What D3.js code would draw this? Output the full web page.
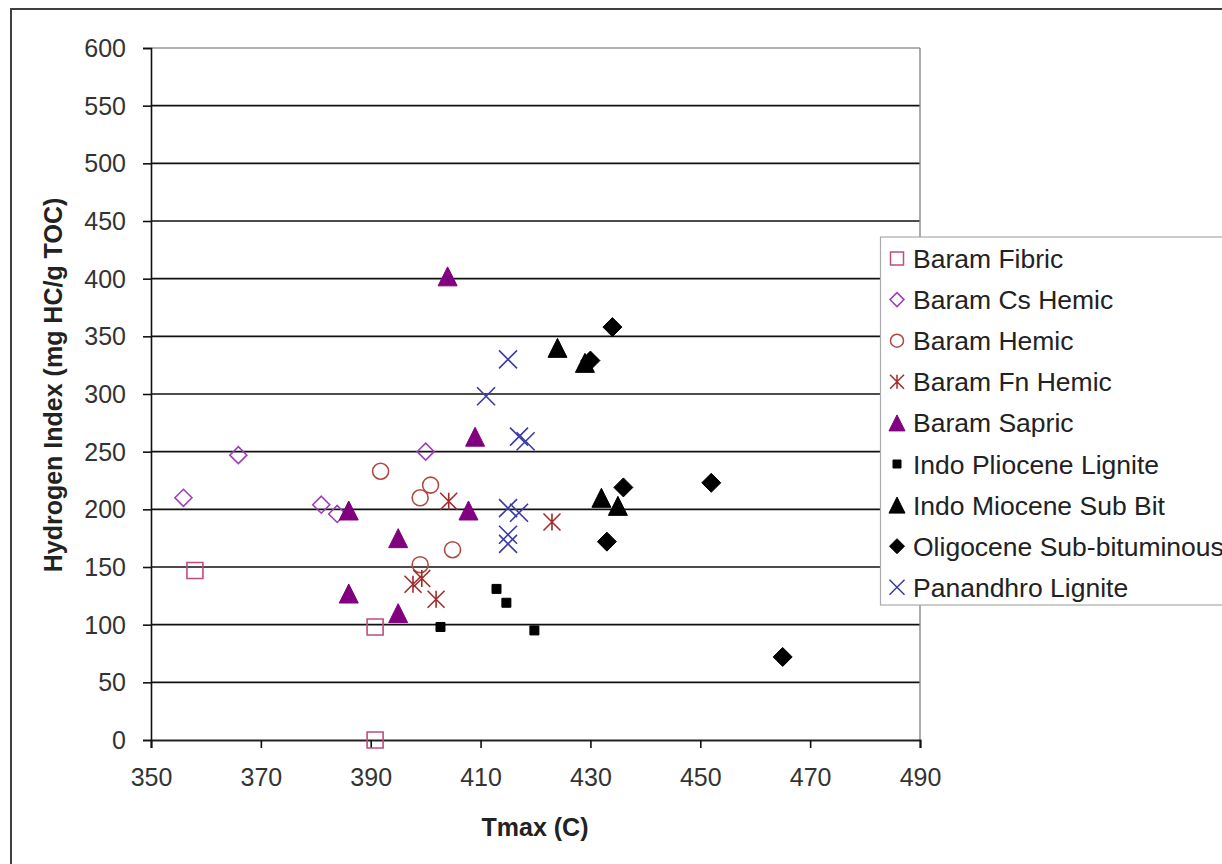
<!DOCTYPE html>
<html>
<head>
<meta charset="utf-8">
<script src="https://cdn.jsdelivr.net/npm/d3@7"></script>
<style>
  html, body { margin: 0; padding: 0; background: #fff; }
  svg { display: block; font-family: "Liberation Sans", Arial, sans-serif; }
</style>
</head>
<body>
<svg id="chart" width="1222" height="864"></svg>
<script>
// ---------- data ----------
const seriesNames = ["Baram Fibric", "Baram Cs Hemic", "Baram Hemic", "Baram Fn Hemic", "Baram Sapric",
  "Indo Pliocene Lignite", "Indo Miocene Sub Bit", "Oligocene Sub-bituminous", "Panandhro Lignite"];

const baramFibricX = [358, 390.8, 390.8];
const baramFibricY = [147, 98, 0];
const baramCsHemicX = [355.9, 365.9, 381, 383.9, 400];
const baramCsHemicY = [210, 247, 204, 196, 250];
const baramHemicX = [391.8, 400.9, 399, 404.9, 399];
const baramHemicY = [233, 221, 210, 165, 152];
const baramFnHemicX = [404.2, 397.7, 399.3, 401.9, 423];
const baramFnHemicY = [207, 135, 140, 122, 189];
const baramSapricX = [404, 409, 407.8, 386, 395, 386, 395];
const baramSapricY = [402, 263, 199, 199, 175, 127, 110];
const indoPlioceneX = [402.7, 412.9, 414.7, 419.8];
const indoPlioceneY = [98, 131, 119, 95];
const indoMioceneX = [424, 429, 432, 435];
const indoMioceneY = [340, 327, 210, 203];
const oligoceneX = [434, 430, 436, 452, 433, 465];
const oligoceneY = [358, 329, 219, 223, 172, 72];
const panandhroX = [415, 411, 417, 418.2, 415, 417, 415, 415];
const panandhroY = [330, 298, 263, 259, 201, 197, 178, 170];

const xTicks = [350, 370, 390, 410, 430, 450, 470, 490];
const yTicks = [0, 50, 100, 150, 200, 250, 300, 350, 400, 450, 500, 550, 600];

// ---------- styles ----------
const styles = [
  { shape: "square", size: 16, fill: "none", stroke: "#c04c80" },
  { shape: "diamond", size: 17, fill: "none", stroke: "#9c40b8" },
  { shape: "circle", size: 16, fill: "none", stroke: "#b04a40" },
  { shape: "asterisk", size: 17, fill: "none", stroke: "#a02c2c" },
  { shape: "triangle", size: 19, fill: "#800080", stroke: "#800080" },
  { shape: "square", size: 9, fill: "#000", stroke: "#000" },
  { shape: "triangle", size: 19, fill: "#000", stroke: "#000" },
  { shape: "diamond", size: 19, fill: "#000", stroke: "#000" },
  { shape: "x", size: 18, fill: "none", stroke: "#3a3aa8" }
];
const legendSizes = [13, 14, 13, 14, 16, 8, 16, 15, 15];

const series = [
  [baramFibricX, baramFibricY], [baramCsHemicX, baramCsHemicY], [baramHemicX, baramHemicY],
  [baramFnHemicX, baramFnHemicY], [baramSapricX, baramSapricY], [indoPlioceneX, indoPlioceneY],
  [indoMioceneX, indoMioceneY], [oligoceneX, oligoceneY], [panandhroX, panandhroY]
].map((p, i) => ({ name: seriesNames[i], style: styles[i], pts: p[0].map((x, j) => ({ x, y: p[1][j] })) }));

function shapePath(shape, s) {
  const h = s / 2;
  switch (shape) {
    case "square": return `M${-h},${-h}H${h}V${h}H${-h}Z`;
    case "diamond": return `M0,${-h}L${h},0L0,${h}L${-h},0Z`;
    case "circle": return `M${h},0A${h},${h} 0 1,1 ${-h},0A${h},${h} 0 1,1 ${h},0Z`;
    case "triangle": return `M0,${-h}L${h},${h}L${-h},${h}Z`;
    case "x": return `M${-h},${-h}L${h},${h}M${h},${-h}L${-h},${h}`;
    case "asterisk": return `M${-h},${-h}L${h},${h}M${h},${-h}L${-h},${h}M0,${-h}V${h}`;
  }
}

// ---------- chart ----------
const svg = d3.select("#chart");
svg.append("rect").attr("width", 1222).attr("height", 864).attr("fill", "#fff");
svg.append("rect").attr("x", 11).attr("y", 9).attr("width", 1300).attr("height", 1000)
  .attr("fill", "none").attr("stroke", "#404040").attr("stroke-width", 2);

const x = d3.scaleLinear().domain([350, 490]).range([151, 920]);
const y = d3.scaleLinear().domain([0, 600]).range([740, 48]);

// gridlines
svg.append("g").selectAll("line").data(yTicks.filter(t => t > 0 && t < 600)).join("line")
  .attr("x1", x(350)).attr("x2", x(490)).attr("y1", d => y(d)).attr("y2", d => y(d))
  .attr("stroke", "#111").attr("stroke-width", 1.6);
// plot frame top/right
svg.append("line").attr("x1", x(350)).attr("x2", x(490)).attr("y1", y(600)).attr("y2", y(600))
  .attr("stroke", "#999").attr("stroke-width", 1.6);
svg.append("line").attr("x1", x(490)).attr("x2", x(490)).attr("y1", y(600)).attr("y2", y(0))
  .attr("stroke", "#888").attr("stroke-width", 1.4);

// axes
const yAxis = d3.axisLeft(y).tickValues(yTicks).tickSize(8).tickPadding(17);
const gy = svg.append("g").attr("transform", `translate(${x(350)},0)`).call(yAxis);
gy.select(".domain").attr("stroke", "#111").attr("stroke-width", 1.6);
gy.selectAll(".tick line").attr("stroke", "#111").attr("stroke-width", 1.6);
gy.selectAll(".tick text").attr("font-size", 25).attr("fill", "#333")
  .attr("font-family", "Liberation Sans, Arial, sans-serif").attr("dy", "0.34em");

const xAxis = d3.axisBottom(x).tickValues(xTicks).tickSize(8).tickPadding(20);
const gx = svg.append("g").attr("transform", `translate(0,${y(0)})`).call(xAxis);
gx.select(".domain").attr("stroke", "#222").attr("stroke-width", 2);
gx.selectAll(".tick line").attr("stroke", "#111").attr("stroke-width", 1.6);
gx.selectAll(".tick text").attr("font-size", 25).attr("fill", "#333")
  .attr("font-family", "Liberation Sans, Arial, sans-serif");

// titles
svg.append("text").attr("x", 535).attr("y", 836).attr("text-anchor", "middle")
  .attr("font-size", 25).attr("font-weight", "bold").attr("fill", "#222").text("Tmax (C)");
svg.append("text").attr("transform", "translate(62,385) rotate(-90)").attr("text-anchor", "middle")
  .attr("font-size", 25).attr("font-weight", "bold").attr("fill", "#222")
  .text("Hydrogen Index (mg HC/g TOC)");

// points
const gp = svg.append("g");
series.forEach(s => {
  gp.append("g").selectAll("path").data(s.pts).join("path")
    .attr("transform", d => `translate(${x(d.x)},${y(d.y)})`)
    .attr("d", shapePath(s.style.shape, s.style.size))
    .attr("fill", s.style.fill).attr("stroke", s.style.stroke)
    .attr("stroke-width", s.style.fill === "none" ? 1.6 : 1);
});

// legend
const lg = svg.append("g");
lg.append("rect").attr("x", 880.5).attr("y", 237).attr("width", 400).attr("height", 368)
  .attr("fill", "#fff").attr("stroke", "#aaa").attr("stroke-width", 1.2);
series.forEach((s, i) => {
  const cy = 258.5 + i * 41.1;
  lg.append("path").attr("transform", `translate(897,${cy})`)
    .attr("d", shapePath(s.style.shape, legendSizes[i]))
    .attr("fill", s.style.fill).attr("stroke", s.style.stroke)
    .attr("stroke-width", s.style.fill === "none" ? 1.5 : 1);
  lg.append("text").attr("x", 913).attr("y", cy + 9.5).attr("font-size", 26.5).attr("fill", "#222")
    .text(s.name);
});
</script>
</body>
</html>
